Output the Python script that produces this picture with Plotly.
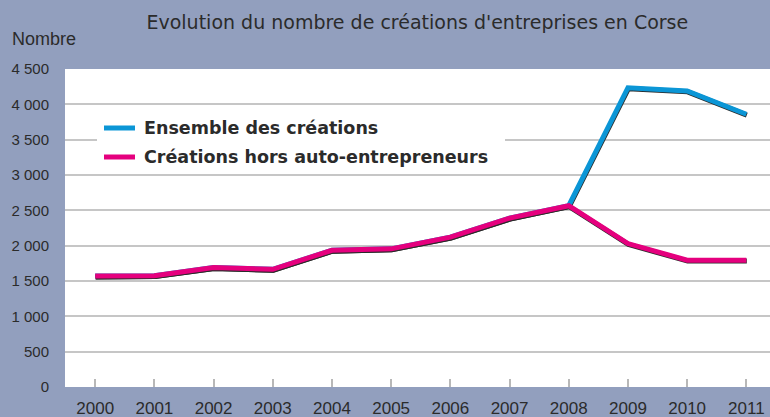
import plotly.graph_objects as go

years = list(range(2000, 2012))
ensemble = [1570, 1575, 1690, 1665, 1935, 1955, 2120, 2390, 2565, 4235, 4190, 3860]
hors_ae = [1570, 1575, 1690, 1665, 1935, 1955, 2120, 2390, 2565, 2030, 1795, 1795]
series_names = ["Ensemble des créations", "Créations hors auto-entrepreneurs"]
y_ticks = [0, 500, 1000, 1500, 2000, 2500, 3000, 3500, 4000, 4500]
y_ticktext = ["0", "500", "1 000", "1 500", "2 000", "2 500", "3 000", "3 500", "4 000", "4 500"]

BLUE = "#0b96d6"
MAGENTA = "#e5007e"
SHADOW = "#2a2a2a"
BG = "#929fbe"
TXT = "#2b2b2b"
FONT = "Liberation Sans, Arial, sans-serif"
WIDE = "DejaVu Sans, sans-serif"

W, H = 770, 417
ML, MR, MT, MB = 65, 0, 69, 30
PW, PH = W - ML - MR, H - MT - MB


def px_x(px):
    return (px - ML) / PW


def px_y(py):
    return (H - MB - py) / PH


# small shadow offset (derived from the data)
dx, dy = 0.008, -13

fig = go.Figure()
fig.add_trace(go.Scatter(x=[v + dx for v in years], y=[v + dy for v in ensemble], mode="lines",
                         line=dict(color=SHADOW, width=5), showlegend=False, hoverinfo="skip"))
fig.add_trace(go.Scatter(x=years, y=ensemble, mode="lines", name=series_names[0],
                         line=dict(color=BLUE, width=5), showlegend=False))
fig.add_trace(go.Scatter(x=[v + dx for v in years], y=[v + dy for v in hors_ae], mode="lines",
                         line=dict(color=SHADOW, width=5), showlegend=False, hoverinfo="skip"))
fig.add_trace(go.Scatter(x=years, y=hors_ae, mode="lines", name=series_names[1],
                         line=dict(color=MAGENTA, width=5), showlegend=False))

# manual legend box
shapes = [dict(type="rect", xref="paper", yref="paper", x0=px_x(97), x1=px_x(505),
               y0=px_y(174), y1=px_y(106), fillcolor="white", line=dict(width=0), layer="above")]
annotations = []
for name, color, py in zip(series_names, [BLUE, MAGENTA], [128, 157]):
    shapes.append(dict(type="line", xref="paper", yref="paper", x0=px_x(104), x1=px_x(135),
                       y0=px_y(py), y1=px_y(py), line=dict(color=color, width=5), layer="above"))
    annotations.append(dict(text="<b>" + name + "</b>", xref="paper", yref="paper",
                            x=px_x(142), y=px_y(py), xanchor="left", yanchor="middle",
                            showarrow=False, font=dict(size=17.5, color=TXT, family=WIDE)))

annotations.append(dict(text="Nombre", xref="paper", yref="paper", x=-0.078, y=1.095,
                        xanchor="left", yanchor="middle", showarrow=False,
                        font=dict(size=18, color=TXT)))

fig.update_layout(
    width=W, height=H,
    margin=dict(l=ML, r=MR, t=MT, b=MB, autoexpand=False),
    paper_bgcolor=BG, plot_bgcolor="white",
    font=dict(family=FONT, color=TXT),
    title=dict(text="Evolution du nombre de créations d'entreprises en Corse",
               x=0.542, xanchor="center", y=0.947, yanchor="middle",
               font=dict(size=19, color=TXT, family=WIDE)),
    shapes=shapes,
    annotations=annotations,
    showlegend=False,
)
fig.update_xaxes(range=[1999.49, 2011.4], tickvals=years, ticks="inside", ticklen=8,
                 tickwidth=1.5, tickcolor="#b8b8b8", showgrid=False, zeroline=False,
                 showline=False, tickfont=dict(size=17, color=TXT), ticklabelstandoff=9,
                 automargin=False)
fig.update_yaxes(range=[0, 4500], tickvals=y_ticks, ticktext=y_ticktext, showgrid=True,
                 gridcolor="#c6c6c6", gridwidth=1.5, zeroline=False, showline=False,
                 ticks="", tickfont=dict(size=15, color=TXT), ticklabelstandoff=15,
                 automargin=False)

fig.write_html("out.html", config={"displayModeBar": False},
               post_script="document.body.style.margin='0';")
